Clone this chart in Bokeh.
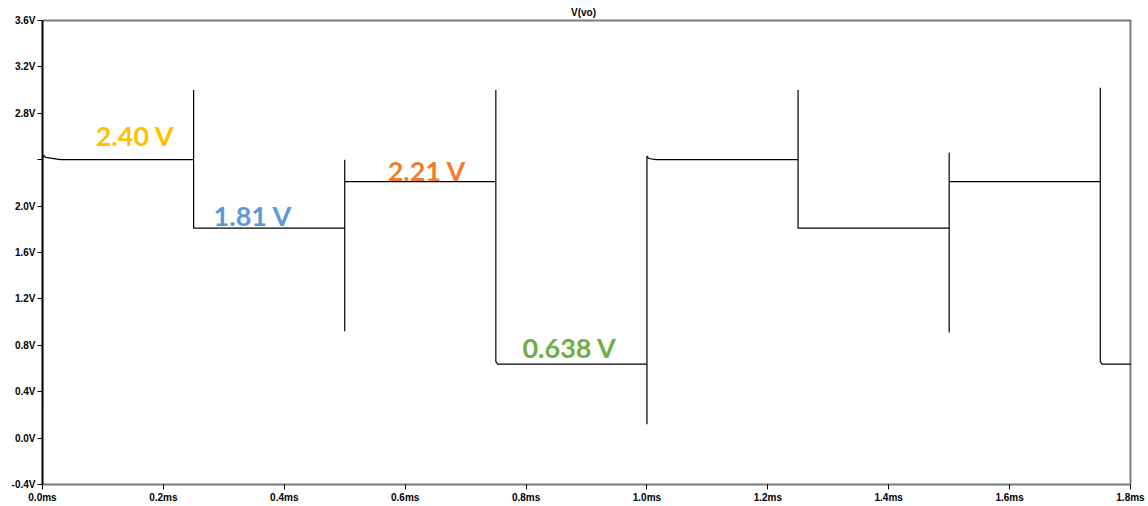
from bokeh.plotting import figure
from bokeh.models import Range1d, FixedTicker, Label, ColumnDataSource
from bokeh.embed import file_html
from bokeh.resources import INLINE

# ---- data ----
t_ms = [0.0, 0.0, 0.002, 0.005, 0.03,
        0.25, 0.25, 0.25,
        0.5, 0.5, 0.5, 0.5,
        0.75, 0.75, 0.75, 0.753,
        1.0, 1.0, 1.0, 1.003, 1.015,
        1.25, 1.25, 1.25,
        1.5, 1.5, 1.5, 1.5,
        1.75, 1.75, 1.75, 1.753,
        1.8]
v_out = [0.26, 2.40, 2.44, 2.42, 2.40,
         2.40, 3.00, 1.81,
         1.81, 0.92, 2.40, 2.21,
         2.21, 3.00, 0.66, 0.638,
         0.638, 0.12, 2.43, 2.41, 2.40,
         2.40, 3.00, 1.81,
         1.81, 0.91, 2.46, 2.21,
         2.21, 3.02, 0.66, 0.638,
         0.638]

x_ticks = [0.0, 0.2, 0.4, 0.6, 0.8, 1.0, 1.2, 1.4, 1.6, 1.8]
x_tick_labels = ["0.0ms", "0.2ms", "0.4ms", "0.6ms", "0.8ms", "1.0ms",
                 "1.2ms", "1.4ms", "1.6ms", "1.8ms"]
y_ticks = [-0.4, 0.0, 0.4, 0.8, 1.2, 1.6, 2.0, 2.4, 2.8, 3.2, 3.6]
y_tick_labels = ["-0.4V", "0.0V", "0.4V", "0.8V", "1.2V", "1.6V", "2.0V",
                 "", "2.8V", "3.2V", "3.6V"]

level_labels = ["2.40 V", "1.81 V", "2.21 V", "0.638 V"]
level_colors = ["#FFC000", "#5B9BD5", "#ED7D31", "#70AD47"]
label_x = [0.088, 0.283, 0.571, 0.794]
label_y = [2.61, 1.923, 2.31, 0.778]

title_text = "V(vo)"

# ---- layout ----
x0, x1 = x_ticks[0], x_ticks[-1]
y0, y1 = y_ticks[0], y_ticks[-1]
frame_h_px = 485          # frame runs from page top to the bottom axis
plot_top_px = 20          # the plotted box starts 20px below the frame top
v_per_px = (y1 - y0) / (frame_h_px - plot_top_px)
y_top = y1 + plot_top_px * v_per_px
ms_per_px = (x1 - x0) / 1088
x_right = x1 + 4 * ms_per_px

p = figure(width=1148, height=505, output_backend="svg", toolbar_location=None,
           title=None,
           x_range=Range1d(x0, x_right), y_range=Range1d(y0, y_top),
           min_border_left=42, min_border_right=14, min_border_top=0,
           min_border_bottom=0)
p.background_fill_color = "white"
p.border_fill_color = "white"
p.outline_line_color = None
p.xgrid.visible = False
p.ygrid.visible = False

# plot box: top and right edges as one polyline
p.line(x=[x0, x1, x1], y=[y1, y1, y0], line_color="#7a7a7a", line_width=2)

src = ColumnDataSource(dict(t=t_ms, v=v_out))
p.line("t", "v", source=src, line_color="black", line_width=1.2)

ax = p.xaxis[0]
ax.bounds = (x0, x1)
ax.ticker = FixedTicker(ticks=x_ticks)
ax.major_label_overrides = {k: s for k, s in zip(x_ticks, x_tick_labels)}
ax.axis_line_color = "#7a7a7a"
ax.axis_line_width = 2
ax.major_tick_out = 5
ax.major_tick_in = 0
ax.minor_tick_line_color = None
ax.major_tick_line_color = "black"
ax.major_label_standoff = 2
ax.major_label_text_font = "Liberation Sans"
ax.major_label_text_font_style = "bold"
ax.major_label_text_font_size = "10px"
ax.major_label_text_color = "black"

ay = p.yaxis[0]
ay.bounds = (y0, y1)
ay.ticker = FixedTicker(ticks=y_ticks)
ay.major_label_overrides = {k: s for k, s in zip(y_ticks, y_tick_labels)}
ay.axis_line_color = "black"
ay.axis_line_width = 2
ay.major_tick_out = 5
ay.major_tick_in = 0
ay.minor_tick_line_color = None
ay.major_tick_line_color = "black"
ay.major_label_standoff = 2
ay.major_label_text_font = "Liberation Sans"
ay.major_label_text_font_style = "bold"
ay.major_label_text_font_size = "10px"
ay.major_label_text_color = "black"

for txt, col, lx, ly in zip(level_labels, level_colors, label_x, label_y):
    p.add_layout(Label(x=lx, y=ly, text=txt, text_color=col,
                       text_font="Lato", text_font_style="bold",
                       text_font_size="27px", text_align="left",
                       text_baseline="middle"))

p.add_layout(Label(x=(x0 + x1) / 2 - 0.005, y=y1, y_offset=8, text=title_text,
                   text_font="Liberation Sans", text_font_style="bold",
                   text_font_size="10px", text_align="center",
                   text_baseline="middle", text_color="black"))

open("out.html", "w").write(file_html(p, INLINE))
